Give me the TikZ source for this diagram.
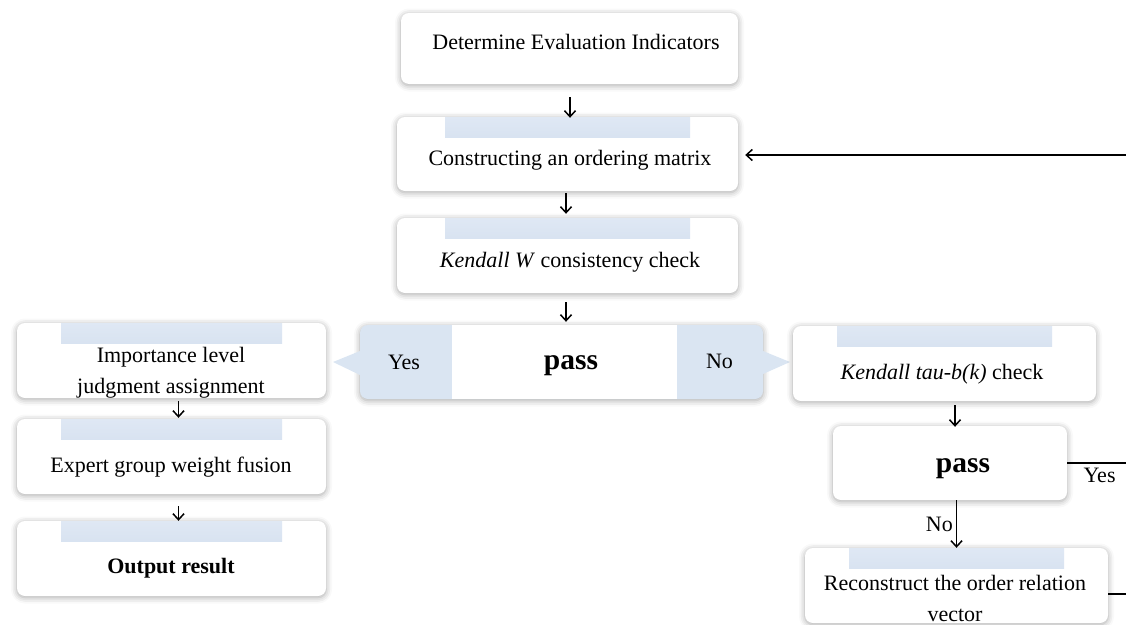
\documentclass[tikz,border=0pt]{standalone}
\usepackage{fontspec}
\setmainfont{Liberation Serif}
\usetikzlibrary{arrows.meta,shadows.blur}
\definecolor{bartop}{HTML}{DFE8F4}
\definecolor{barbot}{HTML}{C6D5E8}
\definecolor{passblue}{HTML}{DAE5F2}
\begin{document}
\begin{tikzpicture}[x=1pt,y=-1pt,
	box/.style={fill=white,rounded corners=8pt,inner sep=0pt,
		blur shadow={shadow xshift=0pt,shadow yshift=-1.5pt,shadow blur radius=6pt,shadow opacity=35}},
	bar/.style={path picture={\shade[sharp corners,top color=bartop,bottom color=barbot]
		([xshift=#1]path picture bounding box.north west) rectangle
		([xshift=-#1,yshift=-20pt]path picture bounding box.north east);}},
	bar/.default=44pt,
	txt/.style={inner sep=0pt,align=center,font=\fontsize{22pt}{31pt}\selectfont},
	big/.style={inner sep=0pt,font=\fontsize{29.5pt}{34pt}\selectfont\bfseries},
	arr/.style={line width=1.5pt,-{Straight Barb[length=6pt,width=11pt]}},
	line/.style={line width=1.4pt}]
		\useasboundingbox (0,0) rectangle (1126,624);
		% middle column
		\node[box,minimum width=337pt,minimum height=71pt] (ind) at (569.5,48.5) {};
		\node[txt] (ind-t) at (576,42) {Determine Evaluation Indicators};
		\node[box,bar=48pt,minimum width=341pt,minimum height=74pt] (cons) at (567.5,154) {};
		\node[txt] (cons-t) at (570,160) {Constructing an ordering matrix};
		\node[box,bar=48pt,minimum width=341pt,minimum height=75pt] (kend) at (567.5,255.5) {};
		\node[txt] (kend-t) at (570,262) {\textit{Kendall W} consistency check};
		% first pass
		\node[box,fill=passblue,minimum width=403pt,minimum height=74pt] (passA) at (561.5,362) {};
		\fill[passblue] (360,351) -- (333,362) -- (360,375) -- cycle;
		\fill[passblue] (763,351) -- (790,362) -- (763,374) -- cycle;
		\node[fill=white,inner sep=0pt,minimum width=225pt,minimum height=74pt] (pass1) at (564.5,362) {};
		\node[big] (pass1-t) at (571,366) {pass};
		\node[txt] (yes1) at (404,362) {Yes};
		\node[txt] (no1) at (719.5,361) {No};
		% left column
		\node[box,bar,minimum width=309pt,minimum height=75pt] (imp) at (171.5,360.5) {};
		\node[txt] (imp-t) at (171,373) {Importance level\\judgment assignment};
		\node[box,bar,minimum width=309pt,minimum height=75pt] (exp) at (171.5,456.5) {};
		\node[txt] (exp-t) at (171,467) {Expert group weight fusion};
		\node[box,bar,minimum width=309pt,minimum height=75pt] (out) at (171.5,558.5) {};
		\node[txt,font=\fontsize{22pt}{31pt}\selectfont\bfseries] (out-t) at (171,568) {Output result};
		% right column
		\node[box,bar,minimum width=303pt,minimum height=75pt] (tau) at (944.5,363.5) {};
		\node[txt] (tau-t) at (942,374) {\textit{Kendall tau-b(k)} check};
		\node[box,minimum width=234pt,minimum height=74pt] (pass2) at (950,463) {};
		\node[big] (pass2-t) at (963,469) {pass};
		\node[box,bar,minimum width=303pt,minimum height=75pt] (rec) at (956.5,585.5) {};
		\node[txt] (rec-t) at (955,598) {Reconstruct the order relation\\vector};
		\coordinate (rtA) at (1126,155);
		\coordinate (rtB) at (1126,463);
		\coordinate (rtC) at (1126,594);
		% connectors
		\draw[arr,shorten <=13pt,shorten >=-1pt] ([xshift=0.5pt]ind.south) -- ([xshift=0.5pt]ind.south |- cons.north);
		\draw[arr,shorten <=2pt,shorten >=4pt] ([xshift=-1.5pt]cons.south) -- ([xshift=-1.5pt]cons.south |- kend.north);
		\draw[arr,shorten <=9pt,shorten >=3pt] ([xshift=-1.5pt]kend.south) -- ([xshift=-1.5pt]kend.south |- passA.north);
		\draw[arr,shorten <=3pt,shorten >=1pt] ([xshift=7pt]imp.south) -- ([xshift=7pt]exp.north);
		\draw[arr,shorten <=12pt,shorten >=0pt] ([xshift=7pt]exp.south) -- ([xshift=7pt]out.north);
		\draw[arr,shorten <=4pt,shorten >=-1pt] ([xshift=10.5pt]tau.south) -- ([xshift=10.5pt]tau.south |- pass2.north);
		\draw[arr] (rec.north |- pass2.south) -- node[txt,left=3pt] (no2) {No} (rec.north);
		\draw[line] (pass2.east) -- node[txt,below=4pt,pos=0.55] (yes2) {Yes} (rtB);
		\draw[line] (rec.east |- rtC) -- (rtC);
		\draw[arr,shorten >=7pt] (rtA) -- (rtA -| cons.east);
	    \end{tikzpicture}
\end{document}
